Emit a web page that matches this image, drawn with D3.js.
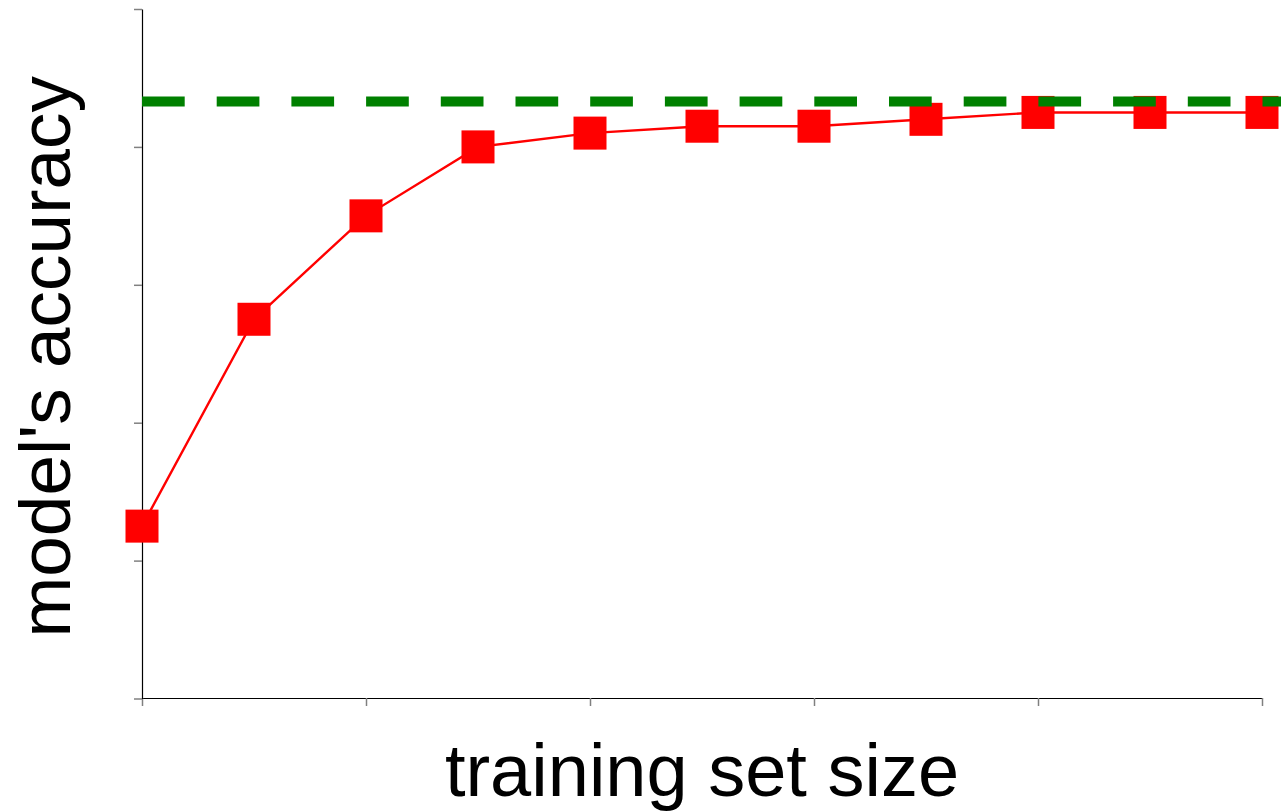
<!DOCTYPE html>
<html>
<head>
<meta charset="utf-8">
<script src="https://cdn.jsdelivr.net/npm/d3@7"></script>
<style>
  html, body { margin: 0; padding: 0; background: #fff; }
  svg { display: block; }
  text { font-family: "Liberation Sans", Arial, sans-serif; fill: #000; }
</style>
</head>
<body>
<svg id="chart" width="1281" height="812"></svg>
<script>
// Data
const trainingSize = [0, 1, 2, 3, 4, 5, 6, 7, 8, 9, 10];
const accuracy = [0.25, 0.55, 0.70, 0.80, 0.82, 0.83, 0.83, 0.84, 0.85, 0.85, 0.85];
const targetAccuracy = [0.866];
const xTicks = [0, 2, 4, 6, 8, 10];
const yTicks = [0, 0.2, 0.4, 0.6, 0.8, 1.0];
const xLabel = "training set size";
const yLabel = "model's accuracy";

const W = 1281, H = 812;
const svg = d3.select("#chart");

const x = d3.scaleLinear().domain([0, 10]).range([142, 1262]);
const y = d3.scaleLinear().domain([0, 1]).range([698.5, 9]);

// Axes
const xAxis = svg.append("g")
  .attr("transform", "translate(0,698)")
  .call(d3.axisBottom(x).tickValues(xTicks).tickSize(8).tickSizeOuter(0).tickFormat(""));
const yAxis = svg.append("g")
  .attr("transform", "translate(142,0)")
  .call(d3.axisLeft(y).tickValues(yTicks).tickSize(8).tickSizeOuter(0).tickFormat(""));
[xAxis, yAxis].forEach(a => {
  a.select(".domain").attr("stroke", "#000").attr("stroke-width", 1.2);
  a.selectAll(".tick line").attr("stroke", "#808080").attr("stroke-width", 1.5);
});

// Series line
const line = d3.line().x((d, i) => x(trainingSize[i])).y(d => y(d));
svg.append("path")
  .datum(accuracy)
  .attr("d", line)
  .attr("fill", "none")
  .attr("stroke", "#ff0000")
  .attr("stroke-width", 2.4);

// Square markers
const S = 33;
svg.append("g").selectAll("rect")
  .data(accuracy)
  .join("rect")
  .attr("x", (d, i) => x(trainingSize[i]) - S / 2)
  .attr("y", d => y(d) - S / 2)
  .attr("width", S)
  .attr("height", S)
  .attr("fill", "#ff0000");

// Target (dashed) line
svg.append("g").selectAll("line")
  .data(targetAccuracy)
  .join("line")
  .attr("x1", x(0))
  .attr("x2", W)
  .attr("y1", d => y(d))
  .attr("y2", d => y(d))
  .attr("stroke", "#008000")
  .attr("stroke-width", 10)
  .attr("stroke-dasharray", "42.7,32");

// Axis labels
svg.append("text")
  .attr("x", (x(0) + x(10)) / 2)
  .attr("y", 796)
  .attr("text-anchor", "middle")
  .attr("font-size", 74)
  .text(xLabel);

svg.append("text")
  .attr("transform", `translate(70,${(y(0) + y(1)) / 2 + 3}) rotate(-90)`)
  .attr("text-anchor", "middle")
  .attr("font-size", 73)
  .text(yLabel);
</script>
</body>
</html>
